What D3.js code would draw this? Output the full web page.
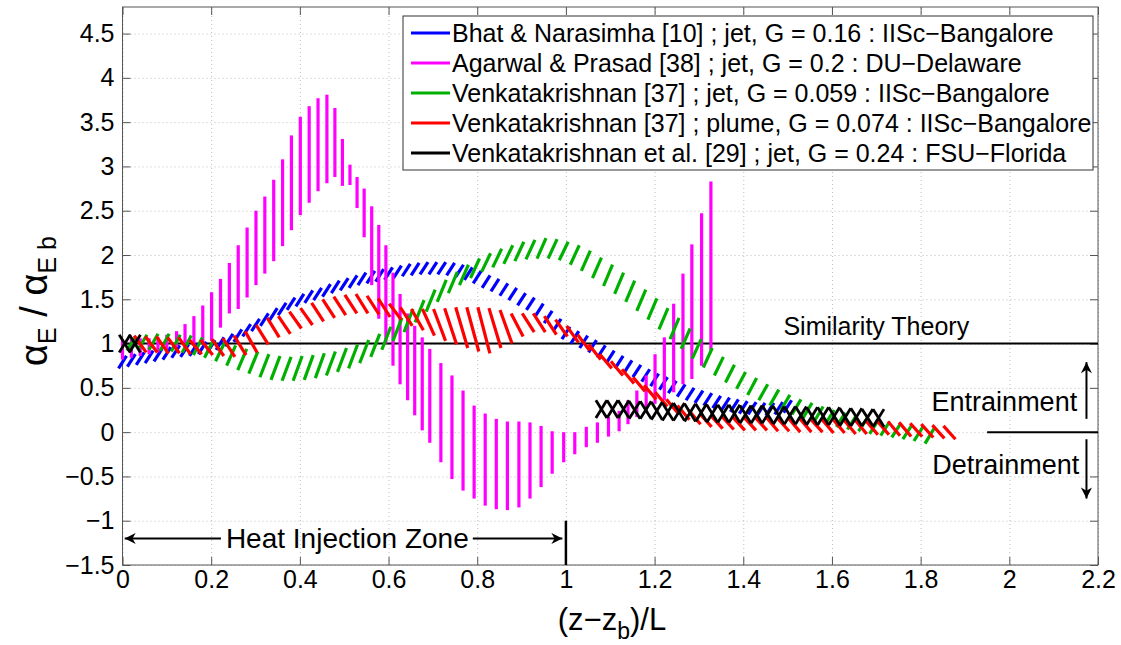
<!DOCTYPE html>
<html>
<head>
<meta charset="utf-8">
<script src="https://cdn.jsdelivr.net/npm/d3@7"></script>
<style>
  body { margin: 0; background: #fff; }
  text { font-family: "Liberation Sans", Arial, sans-serif; fill: #000; }
</style>
</head>
<body>
<svg id="chart" width="1121" height="645"></svg>
<script>
// ticks
var xTicks = [0, 0.2, 0.4, 0.6, 0.8, 1, 1.2, 1.4, 1.6, 1.8, 2, 2.2];
var xTickLabels = ["0", "0.2", "0.4", "0.6", "0.8", "1", "1.2", "1.4", "1.6", "1.8", "2", "2.2"];
var yTicks = [-1.5, -1, -0.5, 0, 0.5, 1, 1.5, 2, 2.5, 3, 3.5, 4, 4.5];
var yTickLabels = ["\u22121.5", "\u22121", "\u22120.5", "0", "0.5", "1", "1.5", "2", "2.5", "3", "3.5", "4", "4.5"];

// legend
var seriesNames = [
  "Bhat & Narasimha [10] ; jet, G = 0.16 : IISc\u2212Bangalore",
  "Agarwal & Prasad [38] ; jet, G = 0.2 : DU\u2212Delaware",
  "Venkatakrishnan [37] ; jet, G = 0.059 : IISc\u2212Bangalore",
  "Venkatakrishnan [37] ; plume, G = 0.074 : IISc\u2212Bangalore",
  "Venkatakrishnan et al. [29] ; jet, G = 0.24 : FSU\u2212Florida"
];
var seriesColors = ["#0000ff", "#ff00ff", "#00b000", "#ff0000", "#000000"];

// Bhat & Narasimha (blue)
var blueX = [0.00,0.02,0.04,0.06,0.08,0.10,0.12,0.14,0.16,0.18,
  0.20,0.22,0.24,0.26,0.28,0.30,0.32,0.34,0.36,0.38,
  0.40,0.42,0.44,0.46,0.48,0.50,0.52,0.54,0.56,0.58,
  0.60,0.62,0.64,0.66,0.68,0.70,0.72,0.74,0.76,0.78,
  0.80,0.82,0.84,0.86,0.88,0.90,0.92,0.94,0.96,0.98,
  1.00,1.02,1.04,1.06,1.08,1.10,1.12,1.14,1.16,1.18,
  1.20,1.22,1.24,1.26,1.28,1.30,1.32,1.34,1.36,1.38,
  1.40,1.42,1.44,1.46,1.48,1.50];
var blueLo = [0.72,0.74,0.76,0.78,0.80,0.82,0.84,0.85,0.86,0.88,
  0.90,0.93,0.97,1.02,1.08,1.14,1.20,1.26,1.32,1.38,
  1.42,1.46,1.49,1.53,1.57,1.60,1.63,1.66,1.68,1.70,
  1.72,1.74,1.76,1.77,1.78,1.78,1.78,1.77,1.75,1.72,
  1.68,1.63,1.59,1.54,1.49,1.43,1.38,1.31,1.23,1.14,
  1.05,1.00,0.95,0.90,0.84,0.78,0.72,0.67,0.62,0.57,
  0.52,0.48,0.44,0.40,0.36,0.33,0.30,0.27,0.25,0.23,
  0.21,0.20,0.19,0.19,0.20,0.22];
var blueHi = [0.86,0.88,0.90,0.92,0.94,0.96,0.98,0.99,1.00,1.02,
  1.04,1.07,1.11,1.16,1.22,1.28,1.34,1.40,1.46,1.52,
  1.56,1.60,1.63,1.67,1.71,1.74,1.77,1.80,1.82,1.84,
  1.86,1.88,1.90,1.91,1.92,1.92,1.92,1.91,1.89,1.86,
  1.82,1.77,1.73,1.68,1.63,1.57,1.52,1.45,1.37,1.28,
  1.19,1.14,1.09,1.04,0.98,0.92,0.86,0.81,0.76,0.71,
  0.66,0.62,0.58,0.54,0.50,0.47,0.44,0.41,0.39,0.37,
  0.35,0.34,0.33,0.33,0.34,0.36];

// Agarwal & Prasad (magenta)
var magX = [0.000,0.020,0.040,0.060,0.080,0.100,
  0.122,0.141,0.161,0.181,0.201,0.221,0.241,0.261,0.281,0.301,0.321,0.341,0.361,0.381,0.401,0.421,0.441,0.461,
  0.479,0.496,0.513,0.529,0.545,0.562,0.578,0.594,0.610,0.626,0.643,0.659,0.676,0.693,
  0.718,0.743,0.768,0.793,0.818,0.843,0.868,0.894,0.919,0.944,0.969,0.995,
  1.020,1.046,1.071,1.096,1.120,1.140,1.160,1.181,1.201,1.222,1.243,1.264,1.284,1.306,1.327];
var magLo = [0.82,0.84,0.86,0.88,0.90,0.93,
  0.96,0.97,0.98,1.00,1.03,1.18,1.34,1.39,1.52,1.66,1.79,1.93,2.10,2.28,2.45,2.59,2.72,2.81,
  2.88,2.78,2.79,2.53,2.20,1.66,1.28,1.00,0.75,0.54,0.36,0.19,0.02,-0.12,
  -0.34,-0.53,-0.66,-0.75,-0.83,-0.87,-0.88,-0.85,-0.75,-0.62,-0.47,-0.34,
  -0.25,-0.17,-0.12,-0.05,0.01,0.09,0.17,0.22,0.32,0.36,0.45,0.54,0.60,0.75,0.92];
var magHi = [1.05,1.05,1.06,1.06,1.07,1.10,
  1.14,1.22,1.31,1.43,1.58,1.73,1.91,2.11,2.31,2.50,2.66,2.85,3.08,3.35,3.56,3.68,3.77,3.81,
  3.66,3.31,3.02,2.88,2.75,2.55,2.34,2.11,1.80,1.56,1.34,1.20,1.07,0.94,
  0.78,0.64,0.47,0.30,0.21,0.15,0.12,0.12,0.11,0.07,0.01,0.00,
  0.00,0.06,0.11,0.17,0.24,0.36,0.47,0.64,0.88,1.07,1.45,1.79,2.12,2.47,2.83];

// Venkatakrishnan jet (green)
var greenX = [0.020,0.045,0.070,0.095,0.120,0.145,0.170,0.195,0.220,0.245,
  0.270,0.295,0.320,0.345,0.370,0.395,0.420,0.445,0.470,0.495,
  0.520,0.545,0.570,0.595,0.620,0.645,0.670,0.695,0.720,0.745,
  0.770,0.795,0.820,0.845,0.870,0.895,0.920,0.945,0.970,0.995,
  1.020,1.045,1.070,1.095,1.120,1.145,1.170,1.195,1.220,1.245,
  1.270,1.295,1.320,1.345,1.370,1.395,1.420,1.445,1.470,1.495,
  1.520,1.545,1.570,1.595,1.620,1.645,1.670,1.695,1.720,1.745,
  1.770,1.795,1.820];
var greenLo = [0.92,0.93,0.93,0.92,0.91,0.90,0.87,0.84,0.80,0.75,
  0.70,0.66,0.62,0.59,0.58,0.58,0.59,0.61,0.64,0.68,
  0.72,0.78,0.85,0.93,1.03,1.13,1.24,1.36,1.47,1.57,
  1.66,1.74,1.81,1.86,1.90,1.93,1.95,1.96,1.96,1.94,
  1.89,1.82,1.74,1.65,1.56,1.47,1.37,1.27,1.16,1.05,
  0.94,0.83,0.73,0.64,0.56,0.49,0.42,0.36,0.30,0.25,
  0.20,0.16,0.12,0.09,0.06,0.03,0.01,-0.02,-0.04,-0.06,
  -0.08,-0.10,-0.13];
var greenHi = [1.08,1.10,1.11,1.11,1.10,1.09,1.07,1.04,1.01,0.98,
  0.94,0.91,0.88,0.86,0.85,0.86,0.87,0.89,0.91,0.95,
  0.99,1.04,1.11,1.19,1.29,1.39,1.49,1.61,1.72,1.81,
  1.89,1.96,2.02,2.07,2.11,2.15,2.17,2.19,2.18,2.15,
  2.11,2.05,1.97,1.89,1.80,1.71,1.61,1.51,1.40,1.29,
  1.17,1.05,0.95,0.85,0.76,0.68,0.61,0.54,0.48,0.42,
  0.37,0.33,0.29,0.25,0.22,0.19,0.16,0.14,0.12,0.10,
  0.08,0.06,0.04];

// Venkatakrishnan plume (red)
var redX = [0.040,0.065,0.090,0.115,0.140,0.165,0.190,0.215,0.240,0.265,
  0.290,0.315,0.340,0.365,0.390,0.415,0.440,0.465,0.490,0.515,
  0.540,0.565,0.590,0.615,0.640,0.665,0.690,0.715,0.740,0.765,
  0.790,0.815,0.840,0.865,0.890,0.915,0.940,0.965,0.990,1.015,
  1.040,1.065,1.090,1.115,1.140,1.165,1.190,1.215,1.240,1.265,
  1.290,1.315,1.340,1.365,1.390,1.415,1.440,1.465,1.490,1.515,
  1.540,1.565,1.590,1.615,1.640,1.665,1.690,1.715,1.740,1.765,
  1.790,1.815,1.840,1.865];
var redLo = [0.90,0.90,0.89,0.89,0.88,0.88,0.87,0.86,0.85,0.87,
  0.90,0.99,1.07,1.11,1.17,1.21,1.25,1.29,1.32,1.34,
  1.34,1.33,1.30,1.27,1.20,1.15,1.09,1.03,0.99,0.95,
  0.91,0.89,0.95,1.00,1.08,1.13,1.13,1.10,1.08,1.01,
  0.92,0.82,0.72,0.64,0.55,0.46,0.37,0.29,0.21,0.14,
  0.09,0.06,0.04,0.03,0.02,0.02,0.02,0.01,0.01,0.00,
  0.00,0.00,-0.01,-0.01,-0.02,-0.02,-0.03,-0.03,-0.04,-0.05,
  -0.05,-0.06,-0.07,-0.08];
var redHi = [1.09,1.08,1.08,1.07,1.07,1.04,1.04,1.05,1.06,1.09,
  1.14,1.21,1.29,1.31,1.36,1.40,1.46,1.50,1.53,1.55,
  1.56,1.54,1.51,1.45,1.41,1.39,1.39,1.39,1.40,1.41,
  1.41,1.41,1.40,1.38,1.34,1.34,1.34,1.31,1.27,1.20,
  1.10,0.99,0.88,0.80,0.71,0.62,0.53,0.45,0.37,0.30,
  0.25,0.21,0.19,0.18,0.17,0.17,0.17,0.17,0.16,0.16,
  0.16,0.15,0.15,0.15,0.14,0.14,0.13,0.13,0.12,0.11,
  0.10,0.09,0.08,0.07];

// Venkatakrishnan et al. (black crosses)
var blackX = [0.005,0.028,
  1.080,1.105,1.130,1.155,1.180,1.205,1.230,1.255,1.280,1.305,
  1.330,1.355,1.380,1.405,1.430,1.455,1.480,1.505,1.530,1.555,
  1.580,1.605,1.630,1.655,1.680,1.705];
var blackLo = [0.90,0.90,
  0.16,0.16,0.16,0.15,0.15,0.14,0.13,0.13,0.12,0.12,
  0.11,0.11,0.11,0.10,0.10,0.10,0.09,0.09,0.09,0.08,
  0.08,0.08,0.07,0.07,0.07,0.06];
var blackHi = [1.10,1.10,
  0.36,0.36,0.36,0.35,0.35,0.34,0.33,0.33,0.32,0.32,
  0.31,0.31,0.31,0.30,0.30,0.30,0.29,0.29,0.29,0.28,
  0.28,0.28,0.27,0.27,0.26,0.26];

var plotL = 122.5, plotR = 1098, plotT = 7, plotB = 565;

var svg = d3.select("#chart");

var x = d3.scaleLinear().domain([0, 2.2]).range([plotL, plotR]);
var y = d3.scaleLinear().domain([-1.5, 4.8]).range([plotB, plotT]);

// grid
svg.append("g")
  .attr("class", "grid")
  .attr("transform", "translate(0," + plotB + ")")
  .call(d3.axisBottom(x).tickValues(xTicks).tickSize(-(plotB - plotT)).tickFormat(""));
svg.append("g")
  .attr("class", "grid")
  .attr("transform", "translate(" + plotL + ",0)")
  .call(d3.axisLeft(y).tickValues(yTicks).tickSize(-(plotR - plotL)).tickFormat(""));
svg.selectAll(".grid .domain").remove();
svg.selectAll(".grid line")
  .attr("stroke", "#bdbdbd")
  .attr("stroke-width", 1)
  .attr("stroke-dasharray", "1,3");

// axes with inward ticks
var xAxis = d3.axisBottom(x).tickValues(xTicks)
  .tickFormat(function(d, i) { return xTickLabels[i]; })
  .tickSize(-8).tickPadding(5);
var yAxis = d3.axisLeft(y).tickValues(yTicks)
  .tickFormat(function(d, i) { return yTickLabels[i]; })
  .tickSize(-8).tickPadding(8);

svg.append("g").attr("class", "axis")
  .attr("transform", "translate(0," + plotB + ")")
  .call(xAxis);
svg.append("g").attr("class", "axis")
  .attr("transform", "translate(" + plotL + ",0)")
  .call(yAxis);
svg.append("g").attr("class", "axis")
  .attr("transform", "translate(0," + plotT + ")")
  .call(d3.axisTop(x).tickValues(xTicks).tickSize(-8).tickFormat(""));
svg.append("g").attr("class", "axis")
  .attr("transform", "translate(" + plotR + ",0)")
  .call(d3.axisRight(y).tickValues(yTicks).tickSize(-8).tickFormat(""));

svg.selectAll(".axis .domain").remove();
svg.selectAll(".axis line").attr("stroke", "#555");
svg.selectAll(".axis text")
  .attr("font-size", 25)
  .attr("font-family", "Liberation Sans, Arial, sans-serif")
  .attr("fill", "#000");

svg.append("rect")
  .attr("x", plotL).attr("y", plotT)
  .attr("width", plotR - plotL).attr("height", plotB - plotT)
  .attr("fill", "none").attr("stroke", "#555").attr("stroke-width", 1);

// similarity line
svg.append("line")
  .attr("x1", x(0)).attr("x2", x(2.2))
  .attr("y1", y(1)).attr("y2", y(1))
  .attr("stroke", "#000").attr("stroke-width", 2);

// hatch marks
function hatch(xs, lo, hi, color, dLo, dHi, sw) {
  svg.append("g").selectAll("line")
    .data(xs)
    .join("line")
    .attr("x1", function(d) { return x(d) + dLo; })
    .attr("y1", function(d, i) { return y(lo[i]); })
    .attr("x2", function(d) { return x(d) + dHi; })
    .attr("y2", function(d, i) { return y(hi[i]); })
    .attr("stroke", color)
    .attr("stroke-width", sw);
}

hatch(blueX, blueLo, blueHi, seriesColors[0], -4, 4, 3.2);
hatch(magX, magLo, magHi, seriesColors[1], 0, 0, 3.2);
hatch(greenX, greenLo, greenHi, seriesColors[2], -4.5, 4.5, 3.2);
hatch(redX, redLo, redHi, seriesColors[3], 6, -6, 3.2);
hatch(blackX, blackLo, blackHi, seriesColors[4], -5.5, 5.5, 2.8);
hatch(blackX, blackLo, blackHi, seriesColors[4], 5.5, -5.5, 2.8);

// arrow markers
var defs = svg.append("defs");
defs.append("marker")
  .attr("id", "arr")
  .attr("viewBox", "0 0 10 10")
  .attr("refX", 10).attr("refY", 5)
  .attr("markerWidth", 16).attr("markerHeight", 11)
  .attr("markerUnits", "userSpaceOnUse")
  .attr("orient", "auto")
  .append("path").attr("d", "M0,0 L10,5 L0,10 L3,5 Z").attr("fill", "#000");

function arrow(x1, y1, x2, y2) {
  svg.append("line")
    .attr("x1", x(x1)).attr("y1", y(y1))
    .attr("x2", x(x2)).attr("y2", y(y2))
    .attr("stroke", "#000").attr("stroke-width", 2)
    .attr("marker-end", "url(#arr)");
}

// heat injection zone
arrow(0.222, -1.2, 0.005, -1.2);
arrow(0.79, -1.2, 0.992, -1.2);
svg.append("text")
  .attr("x", x(0.507)).attr("y", y(-1.2))
  .attr("text-anchor", "middle").attr("dominant-baseline", "central")
  .attr("font-size", 28)
  .text("Heat Injection Zone");
svg.append("line")
  .attr("x1", x(1)).attr("x2", x(1))
  .attr("y1", y(-1)).attr("y2", y(-1.5))
  .attr("stroke", "#000").attr("stroke-width", 2.5);

// similarity theory label
svg.append("text")
  .attr("x", x(1.70)).attr("y", y(1.1))
  .attr("text-anchor", "middle")
  .attr("font-size", 25)
  .text("Similarity Theory");

// entrainment / detrainment
svg.append("line")
  .attr("x1", x(1.95)).attr("x2", x(2.2))
  .attr("y1", y(0)).attr("y2", y(0))
  .attr("stroke", "#000").attr("stroke-width", 2);
arrow(2.174, 0.15, 2.174, 0.79);
arrow(2.174, -0.08, 2.174, -0.75);
svg.append("text")
  .attr("x", x(2.153)).attr("y", y(0.24))
  .attr("text-anchor", "end")
  .attr("font-size", 27)
  .text("Entrainment");
svg.append("text")
  .attr("x", x(2.158)).attr("y", y(-0.47))
  .attr("text-anchor", "end")
  .attr("font-size", 27)
  .text("Detrainment");

// axis labels
var xl = svg.append("text")
  .attr("x", 612).attr("y", 630)
  .attr("text-anchor", "middle")
  .attr("font-size", 31);
xl.append("tspan").text("(z\u2212z");
xl.append("tspan").attr("font-size", 23).attr("dy", 9).text("b");
xl.append("tspan").attr("dy", -9).text(")/L");

var yl = svg.append("text")
  .attr("transform", "translate(47,301) rotate(-90)")
  .attr("text-anchor", "middle")
  .attr("font-size", 38);
yl.append("tspan").text("\u03b1");
yl.append("tspan").attr("font-size", 25).attr("dy", 9).text("E");
yl.append("tspan").attr("dy", -9).text(" / \u03b1");
yl.append("tspan").attr("font-size", 25).attr("dy", 9).text("E b");

// legend
var lg = svg.append("g");
lg.append("rect")
  .attr("x", 403).attr("y", 16)
  .attr("width", 690).attr("height", 154)
  .attr("fill", "#fff").attr("stroke", "#333").attr("stroke-width", 1);
var rows = lg.selectAll("g.row")
  .data(seriesNames)
  .join("g")
  .attr("class", "row")
  .attr("transform", function(d, i) { return "translate(0," + (33 + i * 30) + ")"; });
rows.append("line")
  .attr("x1", 411).attr("x2", 450)
  .attr("stroke", function(d, i) { return seriesColors[i]; })
  .attr("stroke-width", 3);
rows.append("text")
  .attr("x", 452)
  .attr("dominant-baseline", "central")
  .attr("font-size", 25)
  .text(function(d) { return d; });
</script>
</body>
</html>
